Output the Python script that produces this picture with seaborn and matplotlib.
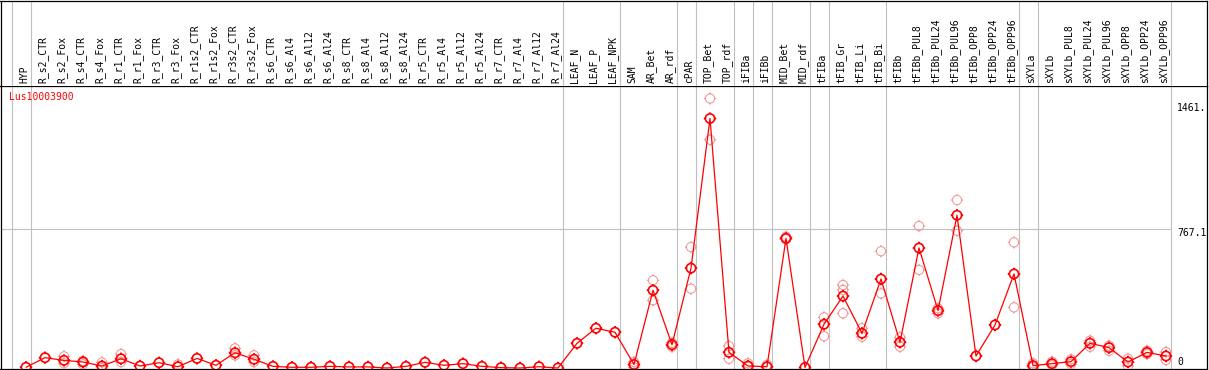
import numpy as np
import pandas as pd
import matplotlib
matplotlib.use("Agg")
import matplotlib.pyplot as plt
import seaborn as sns
from matplotlib.path import Path

# ---------------- data ----------------
categories = [
    "HYP", "R_s2_CTR", "R_s2_Fox", "R_s4_CTR", "R_s4_Fox", "R_r1_CTR", "R_r1_Fox",
    "R_r3_CTR", "R_r3_Fox", "R_r1s2_CTR", "R_r1s2_Fox", "R_r3s2_CTR", "R_r3s2_Fox",
    "R_s6_CTR", "R_s6_Al4", "R_s6_Al12", "R_s6_Al24", "R_s8_CTR", "R_s8_Al4",
    "R_s8_Al12", "R_s8_Al24", "R_r5_CTR", "R_r5_Al4", "R_r5_Al12", "R_r5_Al24",
    "R_r7_CTR", "R_r7_Al4", "R_r7_Al12", "R_r7_Al24", "LEAF_N", "LEAF_P", "LEAF_NPK",
    "SAM", "AR_Bet", "AR_rdf", "cPAR", "TOP_Bet", "TOP_rdf", "iFIBa", "iFIBb",
    "MID_Bet", "MID_rdf", "tFIBa", "tFIB_Gr", "tFIB_Li", "tFIB_Bi", "tFIBb",
    "tFIBb_PUL8", "tFIBb_PUL24", "tFIBb_PUL96", "tFIBb_OPP8", "tFIBb_OPP24",
    "tFIBb_OPP96", "sXYLa", "sXYLb", "sXYLb_PUL8", "sXYLb_PUL24", "sXYLb_PUL96",
    "sXYLb_OPP8", "sXYLb_OPP24", "sXYLb_OPP96",
]

means = [4, 57, 42, 33, 11, 51, 11, 29, 7, 53, 15, 84, 48, 9, 4, 4, 9, 6, 6, 0,
         9, 31, 15, 24, 9, 2, 0, 7, 0, 136, 219, 197, 19, 428, 128, 550, 1374, 86,
         11, 7, 714, 3, 241, 396, 191, 490, 142, 661, 316, 841, 66, 237, 518, 13,
         24, 35, 136, 112, 33, 86, 66]

nan = np.nan
rep_hi = [nan, nan, 64, 39, 31, 77, nan, nan, 20, nan, nan, 108, 70, nan, nan, nan,
          nan, nan, nan, nan, nan, nan, nan, nan, nan, nan, nan, nan, nan, nan, nan,
          nan, 33, 483, 139, 666, 1484, 121, 26, 17, 723, nan, 279, 457, 219, 643,
          169, 782, 329, 925, nan, nan, 692, 26, 35, 48, 150, 123, 51, 95, 88]
rep_lo = [nan, nan, 26, 20, 0, 33, nan, nan, nan, nan, nan, 70, 33, nan, nan, nan,
          nan, nan, nan, nan, nan, nan, nan, nan, nan, nan, nan, nan, nan, nan, nan,
          nan, 4, 373, 117, 437, 1257, 51, 7, nan, 709, nan, 175, 301, 172, 411,
          117, 540, 301, 756, nan, nan, 334, 4, 15, 22, 117, 95, 11, 77, 44]
rep_mid = [nan] * 43 + [430] + [nan] * 17

# group boundaries: a separator follows these category indices
group_ends = [-1, 0, 28, 31, 34, 35, 37, 38, 39, 41, 42, 45, 52, 53, 60]

gene = "Lus10003900"
tick_values = ["1461.", "767.1", "0"]
grid_value = 767.1

# ---------------- layout ----------------
W, H = 1209, 370
sns.set_style("white")
plt.rcParams["font.family"] = ["DejaVu Sans Mono"]

fig = plt.figure(figsize=(W / 100, H / 100), dpi=100)


def fx(px):
    return px / W


def fy(py):
    return 1 - py / H


X0, DX = 26.0, 19.0      # pixel of first category, pixel spacing
Y0, SC = 368.0, 0.1816   # pixel of value 0, pixels per unit

left_px, right_px = 0.5, 1207.0
top_px, sep_px, bot_px = 0.5, 85.5, 369.3

ax = fig.add_axes([fx(left_px), fy(bot_px), fx(right_px) - fx(left_px), fy(sep_px) - fy(bot_px)])
ax_lab = fig.add_axes([fx(left_px), fy(sep_px), fx(right_px) - fx(left_px), fy(top_px) - fy(sep_px)])

xlim = ((left_px - X0) / DX, (right_px - X0) / DX)
ylim = ((Y0 - bot_px) / SC, (Y0 - sep_px) / SC)

for a in (ax, ax_lab):
    a.set_xticks([])
    a.set_yticks([])
    a.set_facecolor("white")
    for s in a.spines.values():
        s.set_color("black")
        s.set_linewidth(0.9)
ax_lab.spines["bottom"].set_visible(False)

gray = "#c0c0c0"
offset = 5 / DX
for b in group_ends:
    ax.axvline(b + offset, color=gray, lw=0.8, zorder=0.5)
    ax_lab.axvline(b + offset, color=gray, lw=0.8, zorder=0.5)
ax.hlines(grid_value, xlim[0], group_ends[-1] + offset, color=gray, lw=0.8, zorder=0.5)

# marker: circle with four small ticks
circ = Path.unit_circle()
ticks = Path([(0, 1), (0, 1.35), (0, -1), (0, -1.35), (1, 0), (1.35, 0), (-1, 0), (-1.35, 0)],
             [Path.MOVETO, Path.LINETO] * 4)
tick_marker = Path.make_compound_path(circ, ticks)

idx = np.arange(len(categories))
rep_df = pd.concat([
    pd.DataFrame({"idx": idx, "value": r}) for r in (rep_hi, rep_lo, rep_mid)
]).dropna()
mean_df = pd.DataFrame({"idx": idx, "value": means})

sns.scatterplot(data=rep_df, x="idx", y="value", marker=tick_marker, s=80,
                ax=ax, zorder=3, legend=False)
coll = ax.collections[-1]
coll.set_facecolor("none")
coll.set_edgecolor("#f09898")
coll.set_linewidth(0.75)

sns.lineplot(data=mean_df, x="idx", y="value", color="red", lw=0.9, ax=ax,
             zorder=4, sort=False, estimator=None, legend=False)

sns.scatterplot(data=mean_df, x="idx", y="value", marker=tick_marker, s=80,
                ax=ax, zorder=5, legend=False)
coll = ax.collections[-1]
coll.set_facecolor("none")
coll.set_edgecolor("red")
coll.set_linewidth(1.2)

ax.set_xlabel("")
ax.set_ylabel("")
ax.set_xlim(*xlim)
ax.set_ylim(*ylim)
ax_lab.set_xlim(*xlim)
ax_lab.set_ylim(0, 1)

# category labels
for i, c in enumerate(categories):
    ax_lab.text(i - 2 / DX, 0.035, c, rotation=90, ha="center", va="bottom",
                fontsize=7, color="black")

# gene label and right-side value labels
fig.text(fx(9), fy(97), gene, color="red", ha="left", va="center", fontsize=7)
for t, py in zip(tick_values, [108, 233, 362]):
    fig.text(fx(1177), fy(py), t, color="black", ha="left", va="center", fontsize=7)

fig.savefig("out.png", dpi=100)
